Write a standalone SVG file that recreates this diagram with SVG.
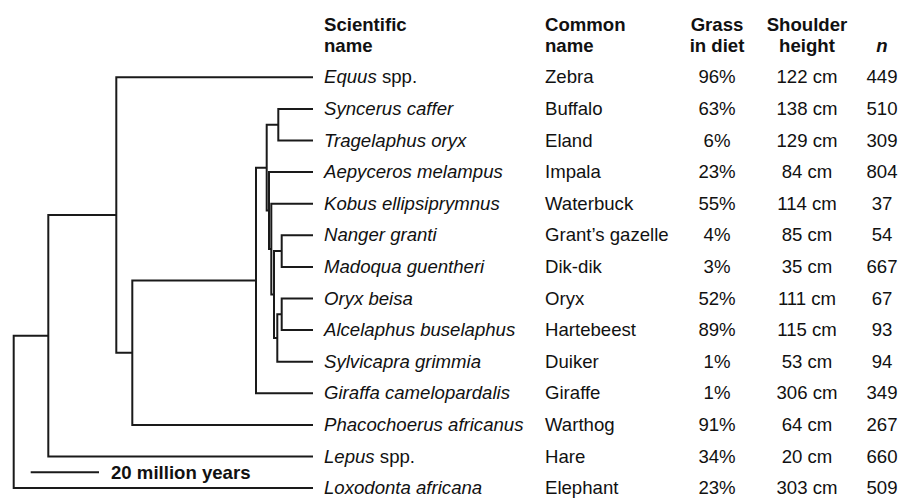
<svg xmlns="http://www.w3.org/2000/svg" width="914" height="498" viewBox="0 0 914 498">
<style>
text{font-family:"Liberation Sans",Arial,sans-serif;font-size:18.6px;fill:#111}
.h{font-weight:bold}
.i{font-style:italic}
.c{text-anchor:middle}
.br{fill:none;stroke:#1a1a1a;stroke-width:2;stroke-linejoin:miter}
</style>
<rect width="914" height="498" fill="#fff"/>
<g id="header">
<text class="h" x="324" y="30.5">Scientific</text>
<text class="h" x="324" y="51.5">name</text>
<text class="h" x="545" y="30.5">Common</text>
<text class="h" x="545" y="51.5">name</text>
<text class="h c" x="717" y="30.5">Grass</text>
<text class="h c" x="717" y="51.5">in diet</text>
<text class="h c" x="807" y="30.5">Shoulder</text>
<text class="h c" x="807" y="51.5">height</text>
<text class="h i c" x="882" y="51.5">n</text>
</g>
<g id="connectors" class="br">
<path d="M48.3,335.75H13.7V488.1H313"/>
<path d="M116.3,215H48.3V456.5H313"/>
<path d="M313,77.3H116.3V352.7H132.3"/>
<path d="M256,280.5H132.3V424.9H313"/>
<path d="M266.7,167.65H256V393.3H313"/>
<path d="M278.3,124.7H266.7V210.6H269"/>
<path d="M313,172.1H269V249.1H271.3"/>
<path d="M313,203.7H271.3V294.55H274"/>
<path d="M281.7,251.1H274V338H277.3"/>
<path d="M281.7,314.3H277.3V361.7H313"/>
<path d="M313,298.5H281.7V330.1H313"/>
<path d="M313,235.3H281.7V266.9H313"/>
<path d="M313,108.9H278.3V140.5H313"/>
</g>
<g id="equus"><text x="324" y="83.3"><tspan class="i">Equus</tspan> spp.</text><text x="545" y="83.3">Zebra</text><text class="c" x="717" y="83.3">96%</text><text class="c" x="807" y="83.3">122 cm</text><text class="c" x="882" y="83.3">449</text></g>
<g id="syncerus"><text class="i" x="324" y="114.9">Syncerus caffer</text><text x="545" y="114.9">Buffalo</text><text class="c" x="717" y="114.9">63%</text><text class="c" x="807" y="114.9">138 cm</text><text class="c" x="882" y="114.9">510</text></g>
<g id="tragelaphus"><text class="i" x="324" y="146.5">Tragelaphus oryx</text><text x="545" y="146.5">Eland</text><text class="c" x="717" y="146.5">6%</text><text class="c" x="807" y="146.5">129 cm</text><text class="c" x="882" y="146.5">309</text></g>
<g id="aepyceros"><text class="i" x="324" y="178.1">Aepyceros melampus</text><text x="545" y="178.1">Impala</text><text class="c" x="717" y="178.1">23%</text><text class="c" x="807" y="178.1">84 cm</text><text class="c" x="882" y="178.1">804</text></g>
<g id="kobus"><text class="i" x="324" y="209.7">Kobus ellipsiprymnus</text><text x="545" y="209.7">Waterbuck</text><text class="c" x="717" y="209.7">55%</text><text class="c" x="807" y="209.7">114 cm</text><text class="c" x="882" y="209.7">37</text></g>
<g id="nanger"><text class="i" x="324" y="241.3">Nanger granti</text><text x="545" y="241.3">Grant’s gazelle</text><text class="c" x="717" y="241.3">4%</text><text class="c" x="807" y="241.3">85 cm</text><text class="c" x="882" y="241.3">54</text></g>
<g id="madoqua"><text class="i" x="324" y="272.9">Madoqua guentheri</text><text x="545" y="272.9">Dik-dik</text><text class="c" x="717" y="272.9">3%</text><text class="c" x="807" y="272.9">35 cm</text><text class="c" x="882" y="272.9">667</text></g>
<g id="oryx"><text class="i" x="324" y="304.5">Oryx beisa</text><text x="545" y="304.5">Oryx</text><text class="c" x="717" y="304.5">52%</text><text class="c" x="807" y="304.5">111 cm</text><text class="c" x="882" y="304.5">67</text></g>
<g id="alcelaphus"><text class="i" x="324" y="336.1">Alcelaphus buselaphus</text><text x="545" y="336.1">Hartebeest</text><text class="c" x="717" y="336.1">89%</text><text class="c" x="807" y="336.1">115 cm</text><text class="c" x="882" y="336.1">93</text></g>
<g id="sylvicapra"><text class="i" x="324" y="367.7">Sylvicapra grimmia</text><text x="545" y="367.7">Duiker</text><text class="c" x="717" y="367.7">1%</text><text class="c" x="807" y="367.7">53 cm</text><text class="c" x="882" y="367.7">94</text></g>
<g id="giraffa"><text class="i" x="324" y="399.3">Giraffa camelopardalis</text><text x="545" y="399.3">Giraffe</text><text class="c" x="717" y="399.3">1%</text><text class="c" x="807" y="399.3">306 cm</text><text class="c" x="882" y="399.3">349</text></g>
<g id="phacochoerus"><text class="i" x="324" y="430.9">Phacochoerus africanus</text><text x="545" y="430.9">Warthog</text><text class="c" x="717" y="430.9">91%</text><text class="c" x="807" y="430.9">64 cm</text><text class="c" x="882" y="430.9">267</text></g>
<g id="lepus"><text x="324" y="462.5"><tspan class="i">Lepus</tspan> spp.</text><text x="545" y="462.5">Hare</text><text class="c" x="717" y="462.5">34%</text><text class="c" x="807" y="462.5">20 cm</text><text class="c" x="882" y="462.5">660</text></g>
<g id="loxodonta"><text class="i" x="324" y="494.1">Loxodonta africana</text><text x="545" y="494.1">Elephant</text><text class="c" x="717" y="494.1">23%</text><text class="c" x="807" y="494.1">303 cm</text><text class="c" x="882" y="494.1">509</text></g>
<g id="scalebar">
<path class="br" d="M30.7,472.3H99"/>
<text class="h" x="111" y="479.3">20 million years</text>
</g>
</svg>
